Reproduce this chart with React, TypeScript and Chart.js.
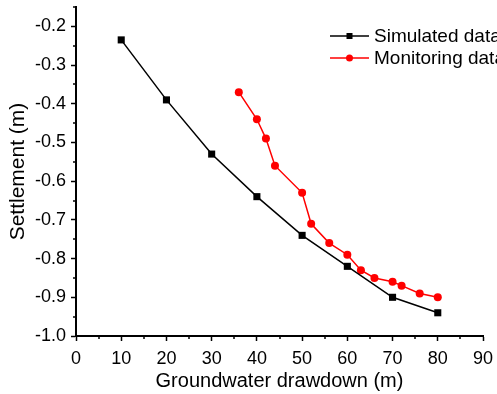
import { useEffect, useRef } from "react";
import { Chart, registerables } from "chart.js";

Chart.register(...registerables);

const simX = [10, 20, 30, 40, 50, 60, 70, 80];
const simY = [-0.235, -0.39, -0.53, -0.64, -0.74, -0.82, -0.9, -0.94];
const monX = [36, 40, 42, 44, 50, 52, 56, 60, 63, 66, 70, 72, 76, 80];
const monY = [-0.37, -0.44, -0.49, -0.56, -0.63, -0.71, -0.76, -0.79, -0.83, -0.85, -0.86, -0.87, -0.89, -0.9];
const xTicks = [0, 10, 20, 30, 40, 50, 60, 70, 80, 90];
const yTicks = [-1.0, -0.9, -0.8, -0.7, -0.6, -0.5, -0.4, -0.3, -0.2];
const seriesNames = ["Simulated data", "Monitoring data"];
const xTitle = "Groundwater drawdown (m)";
const yTitle = "Settlement (m)";

const FONT = "'Liberation Sans', Arial, sans-serif";

const minorTicks = {
  id: "minorTicks",
  afterDraw(chart: any) {
    const ctx = chart.ctx;
    ctx.save();
    ctx.strokeStyle = "#000";
    ctx.lineWidth = 1.5;
    const xs = chart.scales.x;
    const ys = chart.scales.y;
    const xv = xs.ticks.map((t: any) => t.value);
    for (let i = 0; i < xv.length; i++) {
      const step = i < xv.length - 1 ? xv[i + 1] - xv[i] : xv[i] - xv[i - 1];
      const m = xv[i] + step / 2;
      if (m > xs.max) continue;
      const px = Math.round(xs.getPixelForValue(m));
      ctx.beginPath();
      ctx.moveTo(px, xs.top);
      ctx.lineTo(px, xs.top + 3);
      ctx.stroke();
    }
    const yv = ys.ticks.map((t: any) => t.value);
    for (let i = 0; i < yv.length; i++) {
      const step = i < yv.length - 1 ? yv[i + 1] - yv[i] : yv[i] - yv[i - 1];
      const m = yv[i] + step / 2;
      if (m > ys.max + 1e-9) continue;
      const py = Math.round(ys.getPixelForValue(m));
      ctx.beginPath();
      ctx.moveTo(ys.right, py);
      ctx.lineTo(ys.right - 3, py);
      ctx.stroke();
    }
    ctx.restore();
  },
};

const customLegend = {
  id: "customLegend",
  afterDraw(chart: any) {
    const ctx = chart.ctx;
    ctx.save();
    const x0 = 330;
    const x1 = 369;
    const rows = [36, 58];
    chart.data.datasets.forEach((ds: any, i: number) => {
      const y = rows[i];
      ctx.strokeStyle = ds.borderColor;
      ctx.lineWidth = 1.5;
      ctx.beginPath();
      ctx.moveTo(x0, y);
      ctx.lineTo(x1, y);
      ctx.stroke();
      ctx.fillStyle = ds.backgroundColor;
      const cx = (x0 + x1) / 2;
      if (ds.pointStyle === "rect") {
        ctx.fillRect(cx - 3, y - 3, 6, 6);
      } else {
        ctx.beginPath();
        ctx.arc(cx, y, 3.5, 0, Math.PI * 2);
        ctx.fill();
      }
      ctx.fillStyle = "#000";
      ctx.font = `19px ${FONT}`;
      ctx.textBaseline = "middle";
      ctx.textAlign = "left";
      ctx.fillText(ds.label, x1 + 5, y + 1);
    });
    ctx.restore();
  },
};

export default function App() {
  const ref = useRef<HTMLCanvasElement>(null);
  useEffect(() => {
    if (!ref.current) return;
    const chart = new Chart(ref.current, {
      type: "line",
      data: {
        datasets: [
          {
            label: seriesNames[0],
            data: simX.map((x, i) => ({ x, y: simY[i] })),
            borderColor: "#000000",
            backgroundColor: "#000000",
            borderWidth: 1.5,
            pointStyle: "rect",
            pointRadius: 5,
            pointBorderWidth: 0,
            tension: 0,
          },
          {
            label: seriesNames[1],
            data: monX.map((x, i) => ({ x, y: monY[i] })),
            borderColor: "#ff0000",
            backgroundColor: "#ff0000",
            borderWidth: 1.5,
            pointStyle: "circle",
            pointRadius: 4,
            pointBorderWidth: 0,
            tension: 0,
          },
        ],
      },
      options: {
        animation: false,
        responsive: false,
        maintainAspectRatio: false,
        layout: { padding: { top: 7, right: 14, left: 0, bottom: 0 } },
        plugins: { legend: { display: false }, tooltip: { enabled: false } },
        scales: {
          x: {
            type: "linear",
            min: 0,
            max: 90,
            afterBuildTicks: (s: any) => {
              s.ticks = xTicks.map((v) => ({ value: v }));
            },
            afterFit: (s: any) => {
              s.height = 58;
              s.paddingLeft = 0;
              s.paddingRight = 0;
            },
            grid: {
              drawOnChartArea: false,
              drawTicks: true,
              tickLength: 5,
              tickWidth: 1.5,
              tickColor: "#000",
            },
            border: { display: true, color: "#000", width: 2 },
            ticks: {
              color: "#000",
              font: { family: FONT, size: 18 },
              padding: 7,
              maxRotation: 0,
              autoSkip: false,
              callback: (v: any) => String(v),
            },
            title: {
              display: true,
              text: xTitle,
              color: "#000",
              font: { family: FONT, size: 20 },
              padding: { top: 0, bottom: 1 },
            },
          },
          y: {
            type: "linear",
            min: -1.0,
            max: -0.15,
            afterBuildTicks: (s: any) => {
              s.ticks = yTicks.map((v) => ({ value: v }));
            },
            afterFit: (s: any) => {
              s.width = 76;
              s.paddingTop = 0;
              s.paddingBottom = 0;
            },
            grid: {
              drawOnChartArea: false,
              drawTicks: true,
              tickLength: 5,
              tickWidth: 1.5,
              tickColor: "#000",
            },
            border: { display: true, color: "#000", width: 2 },
            ticks: {
              color: "#000",
              font: { family: FONT, size: 18 },
              padding: 5,
              autoSkip: false,
              callback: (v: any) => Number(v).toFixed(1),
            },
            title: {
              display: true,
              text: yTitle,
              color: "#000",
              font: { family: FONT, size: 21 },
              padding: { top: 6, bottom: 0 },
            },
          },
        },
      },
      plugins: [minorTicks, customLegend],
    });
    return () => chart.destroy();
  }, []);
  return (
    <div style={{ position: "absolute", left: 0, top: 0, width: 497, height: 394 }}>
      <canvas ref={ref} width={497} height={394} style={{ width: 497, height: 394, display: "block" }} />
    </div>
  );
}
